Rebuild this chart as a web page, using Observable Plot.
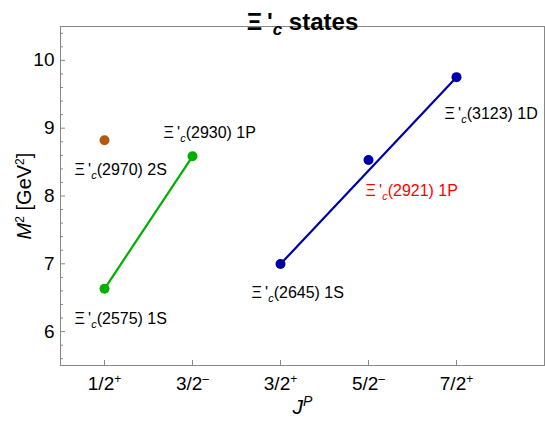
<!DOCTYPE html>
<html><head><meta charset="utf-8">
<script src="https://cdn.jsdelivr.net/npm/d3@7"></script>
<script src="https://cdn.jsdelivr.net/npm/@observablehq/plot@0.6"></script>
<style>body{margin:0;background:#fff}</style>
</head><body><div id="chart"></div>
<script>
// ---- data ----
const jpLabels = ["1/2+", "3/2-", "3/2+", "5/2-", "7/2+"];
const jpPos = [1, 2, 3, 4, 5];
const yTicks = [6, 7, 8, 9, 10];
const titleText = "Ξ'c states";

const greenJ = [1, 2];
const greenM2 = [6.631, 8.585];
const greenNames = ["Ξ'c(2575) 1S", "Ξ'c(2930) 1P"];

const brownJ = [1];
const brownM2 = [8.821];
const brownNames = ["Ξ'c(2970) 2S"];

const blueJ = [3, 4, 5];
const blueM2 = [6.996, 8.532, 9.753];
const blueNames = ["Ξ'c(2645) 1S", "Ξ'c(2921) 1P", "Ξ'c(3123) 1D"];
const blueLineIdx = [0, 2];

// ---- styles ----
const W = 545, H = 422, mL = 60, mR = 1, mT = 26, mB = 57;
const fw = W - mL - mR, fh = H - mT - mB;
const green = "#00b000", brown = "#b35a10", blue = "#0000a8", grey = "#888";
const labelStyle = {
  "Ξ'c(2575) 1S": {dx: -30, dy: 30, fill: "#000"},
  "Ξ'c(2930) 1P": {dx: -29, dy: -23, fill: "#000"},
  "Ξ'c(2970) 2S": {dx: -30, dy: 30, fill: "#000"},
  "Ξ'c(2645) 1S": {dx: -29, dy: 29, fill: "#000"},
  "Ξ'c(2921) 1P": {dx: -3, dy: 31, fill: "#f00"},
  "Ξ'c(3123) 1D": {dx: -12, dy: 37, fill: "#000"}
};

const rows = (js, ms, names) => js.map((j, i) => ({j, m2: ms[i], name: names[i]}));
const greenRows = rows(greenJ, greenM2, greenNames);
const brownRows = rows(brownJ, brownM2, brownNames);
const blueRows = rows(blueJ, blueM2, blueNames);
const allRows = [...greenRows, ...brownRows, ...blueRows];
const yMinor = d3.ticks(5.5, 10.5, 25).filter(v => Math.abs(v - Math.round(v)) > 1e-6);

const labelMarks = allRows.map(r => Plot.text([r], {
  x: "j", y: "m2", text: "name", textAnchor: "start",
  dx: labelStyle[r.name].dx, dy: labelStyle[r.name].dy,
  fill: labelStyle[r.name].fill, fontSize: 16
}));

const svg = Plot.plot({
  width: W, height: H,
  marginLeft: mL, marginRight: mR, marginTop: mT, marginBottom: mB,
  style: {fontFamily: "'Liberation Sans', Arial, sans-serif", background: "#fff", overflow: "visible"},
  x: {domain: [0.5, 6], axis: null},
  y: {domain: [5.5, 10.5], axis: null},
  marks: [
    Plot.frame({stroke: grey}),
    Plot.tickY(yTicks, {y: d => d, insetRight: fw - 5, stroke: grey}),
    Plot.tickY(yMinor, {y: d => d, insetRight: fw - 3, stroke: grey}),
    Plot.tickX(jpPos, {x: d => d, insetTop: fh - 5, stroke: grey}),
    Plot.axisY(yTicks, {tickSize: 0, tickPadding: 6, fontSize: 19, label: null, fill: "#000",
      tickFormat: d => String(d)}),
    Plot.axisX(jpPos, {tickSize: 0, tickPadding: 11, fontSize: 19, label: null, fill: "#000",
      tickFormat: d => jpLabels[d - 1]}),
    Plot.line(greenRows, {x: "j", y: "m2", stroke: green, strokeWidth: 2.2}),
    Plot.line(blueLineIdx.map(i => blueRows[i]), {x: "j", y: "m2", stroke: blue, strokeWidth: 2.2}),
    Plot.dot(greenRows, {x: "j", y: "m2", r: 5, fill: green}),
    Plot.dot(brownRows, {x: "j", y: "m2", r: 5, fill: brown}),
    Plot.dot(blueRows, {x: "j", y: "m2", r: 5, fill: blue}),
    ...labelMarks,
    Plot.text([titleText], {frameAnchor: "top", textAnchor: "middle", dy: -14, fontSize: 24, fontWeight: "bold", fill: "#000"}),
    Plot.text(["JP"], {frameAnchor: "bottom", textAnchor: "middle", dy: 48, fontSize: 21, fill: "#000"}),
    Plot.text(["M2 [GeV2]"], {frameAnchor: "left", textAnchor: "middle", dx: -36, rotate: -90, fontSize: 20, fill: "#000"})
  ]
});

// ---- rich text (subscripts / superscripts / italics) ----
const NS = "http://www.w3.org/2000/svg";
function rich(el, parts) {
  while (el.firstChild) el.removeChild(el.firstChild);
  for (const p of parts) {
    const t = document.createElementNS(NS, "tspan");
    t.textContent = p.t;
    if (p.italic) t.setAttribute("font-style", "italic");
    if (p.size) t.setAttribute("font-size", p.size);
    if (p.dy) t.setAttribute("dy", p.dy);
    el.appendChild(t);
  }
}
svg.querySelectorAll("text").forEach(el => {
  const s = el.textContent;
  if (s.startsWith("Ξ'c")) {
    const big = s === titleText;
    const rest = s.slice(3);
    const off = big ? 5 : 4;
    rich(el, [
      {t: "Ξ\u2009'"},
      {t: "c", italic: true, size: big ? 17 : 11, dy: off},
      {t: rest, dy: -off}
    ]);
  } else if (/^\d\/\d[+-]$/.test(s)) {
    el.setAttribute("font-size", 19);
    rich(el, [
      {t: s.slice(0, 3)},
      {t: s[3] === "+" ? "+" : "\u2013", size: 12, dy: -7},
    ]);
  } else if (/^\d+$/.test(s)) {
    el.setAttribute("font-size", 19);
  } else if (s === "JP") {
    rich(el, [{t: "J", italic: true}, {t: "P", italic: true, size: 14, dy: -8}]);
  } else if (s === "M2 [GeV2]") {
    rich(el, [
      {t: "M", italic: true}, {t: "2", size: 12, dy: -7},
      {t: " [GeV", dy: 7}, {t: "2", size: 12, dy: -7}, {t: "]", dy: 7}
    ]);
  }
});
document.getElementById("chart").appendChild(svg);
</script>
</body></html>
